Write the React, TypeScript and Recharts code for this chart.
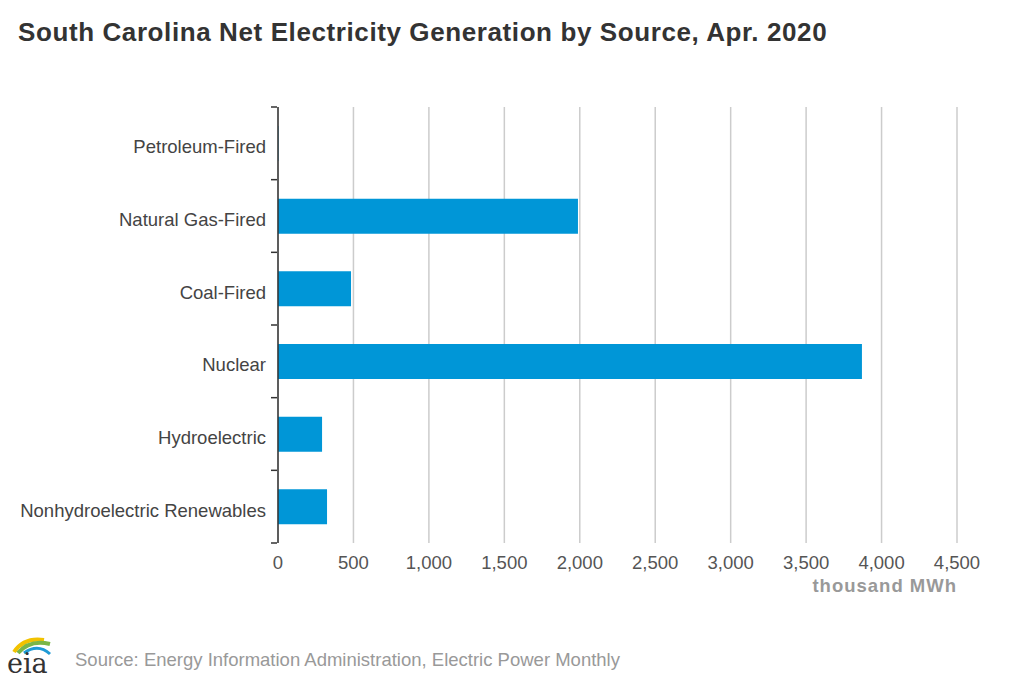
import { BarChart, Bar, XAxis, YAxis, CartesianGrid } from 'recharts';

const sources = [
  'Petroleum-Fired',
  'Natural Gas-Fired',
  'Coal-Fired',
  'Nuclear',
  'Hydroelectric',
  'Nonhydroelectric Renewables',
];
const generation = [3, 1988, 484, 3870, 292, 325];
const xTicks = [0, 500, 1000, 1500, 2000, 2500, 3000, 3500, 4000, 4500];

const data = sources.map((source, i) => ({ source, value: generation[i] }));

const FONT = '"Liberation Sans", Arial, sans-serif';
const PLOT_TOP = 107;
const PLOT_BOTTOM = 543;
const HALF_BAND = (PLOT_BOTTOM - PLOT_TOP) / sources.length / 2;

function CategoryTick(props: any) {
  const { x, y, payload, index } = props;
  const last = index === sources.length - 1;
  return (
    <g>
      <line x1={x + 1} x2={x + 7} y1={y - HALF_BAND} y2={y - HALF_BAND} stroke="#333" strokeWidth={1.5} />
      {last && (
        <line x1={x + 1} x2={x + 7} y1={y + HALF_BAND} y2={y + HALF_BAND} stroke="#333" strokeWidth={1.5} />
      )}
      <text x={x - 4} y={y} dy={10} textAnchor="end" fill="#444" fontSize={18.5} fontFamily={FONT}>
        {payload.value}
      </text>
    </g>
  );
}

function EiaLogo() {
  return (
    <svg width={60} height={50} style={{ position: 'absolute', left: 2, top: 632 }}>
      <path d="M12 20 Q22 5 42 8" stroke="#f2c200" strokeWidth={4} fill="none" />
      <path d="M16 21 Q28 7 48 12" stroke="#7ab648" strokeWidth={4} fill="none" />
      <path d="M22 21 Q36 11 48 22" stroke="#1e9ad6" strokeWidth={3} fill="none" />
      <text x={5} y={41} fontFamily='"DejaVu Serif", "Liberation Serif", serif' fontSize={27} fill="#333">
        eia
      </text>
    </svg>
  );
}

export default function App() {
  return (
    <div style={{ position: 'absolute', left: 0, top: 0, width: 1023, height: 682, background: '#fff', fontFamily: FONT }}>
      <div
        style={{
          position: 'absolute',
          left: 18,
          top: 17,
          fontSize: 26,
          letterSpacing: 0.6,
          fontWeight: 'bold',
          color: '#333',
          whiteSpace: 'nowrap',
        }}
      >
        South Carolina Net Electricity Generation by Source, Apr. 2020
      </div>
      <BarChart
        width={1023}
        height={682}
        data={data}
        layout="vertical"
        margin={{ top: PLOT_TOP, right: 66, bottom: 682 - PLOT_BOTTOM - 30, left: 0 }}
      >
        <CartesianGrid horizontal={false} stroke="#cccccc" strokeWidth={1.5} />
        <XAxis
          type="number"
          domain={[0, 4500]}
          ticks={xTicks}
          height={30}
          axisLine={false}
          tickLine={false}
          tickMargin={7}
          tick={{ fill: '#555', fontSize: 18.5, fontFamily: FONT }}
          tickFormatter={(v: number) => v.toLocaleString('en-US')}
        />
        <YAxis
          type="category"
          dataKey="source"
          width={278}
          axisLine={{ stroke: '#333', strokeWidth: 1.5 }}
          tickLine={false}
          tick={<CategoryTick />}
        />
        <Bar dataKey="value" fill="#0096d7" barSize={35} isAnimationActive={false} />
      </BarChart>
      <div
        style={{
          position: 'absolute',
          right: 1023 - 957,
          top: 575,
          fontSize: 18.5,
          letterSpacing: 1,
          fontWeight: 'bold',
          color: '#999',
          whiteSpace: 'nowrap',
        }}
      >
        thousand MWh
      </div>
      <EiaLogo />
      <div style={{ position: 'absolute', left: 75, top: 649, fontSize: 18.5, color: '#999', whiteSpace: 'nowrap' }}>
        Source: Energy Information Administration, Electric Power Monthly
      </div>
    </div>
  );
}
